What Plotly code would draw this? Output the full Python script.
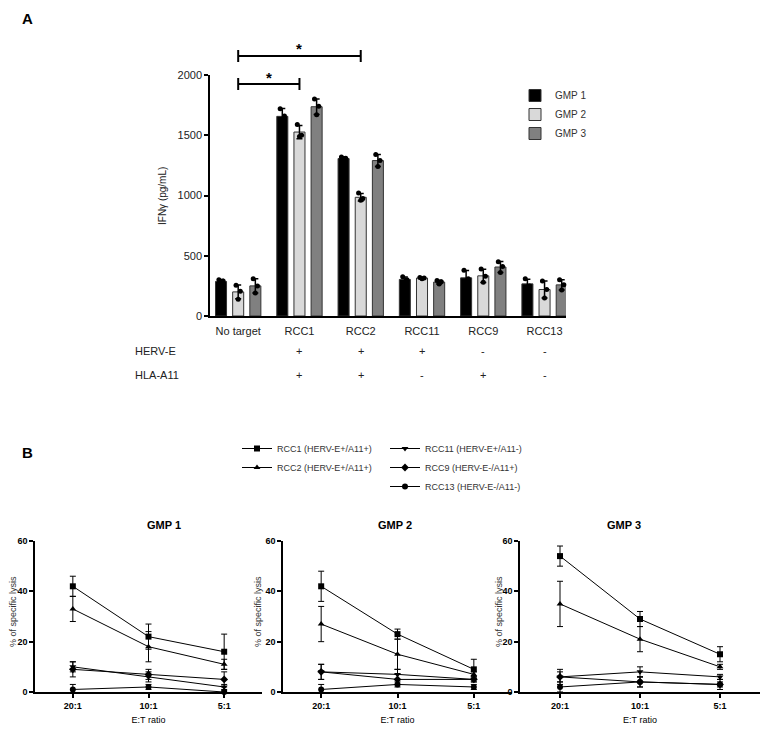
import plotly.graph_objects as go
import numpy as np

W, H = 772, 739
OFF = 8  # page body margin in the viewer
FONT = "Liberation Sans, Arial, sans-serif"


def fx(p):
    return (p - OFF) / W


def fy(p):
    return 1 - (p - OFF) / H


# ---------------- Panel A data ----------------
categories = ["No target", "RCC1", "RCC2", "RCC11", "RCC9", "RCC13"]
gmp_names = ["GMP 1", "GMP 2", "GMP 3"]
herv_e = ["", "+", "+", "+", "-", "-"]
hla_a11 = ["", "+", "+", "-", "+", "-"]

ifng_gmp1 = [[300, 290, 270], [1720, 1660, 1590], [1320, 1310, 1290],
             [325, 300, 285], [380, 310, 260], [310, 250, 240]]
ifng_gmp2 = [[255, 205, 140], [1590, 1500, 1490], [1020, 975, 960],
             [320, 315, 310], [390, 330, 280], [290, 220, 150]]
ifng_gmp3 = [[310, 250, 190], [1800, 1740, 1670], [1340, 1290, 1240],
             [295, 285, 265], [450, 410, 360], [300, 260, 215]]
bar_colors = ["#000000", "#d9d9d9", "#808080"]

# ---------------- Panel B data ----------------
ratios = ["20:1", "10:1", "5:1"]
targets = ["RCC1 (HERV-E+/A11+)", "RCC2 (HERV-E+/A11+)", "RCC11 (HERV-E+/A11-)",
           "RCC9 (HERV-E-/A11+)", "RCC13 (HERV-E-/A11-)"]
symbols = ["square", "triangle-up", "triangle-down", "diamond", "circle"]

lysis_gmp1 = [[42, 22, 16], [33, 18, 11], [10, 6, 2], [9, 7, 5], [1, 2, 0]]
sd_gmp1 = [[4, 5, 7], [5, 6, 2], [2, 2, 1], [3, 2, 3], [2, 1, 0.5]]
lysis_gmp2 = [[42, 23, 9], [27, 15, 7], [8, 7, 5], [8, 5, 5], [1, 3, 2]]
sd_gmp2 = [[6, 2, 4], [7, 6, 1], [3, 2, 1], [3, 2, 1], [2, 1, 1]]
lysis_gmp3 = [[54, 29, 15], [35, 21, 10], [6, 8, 6], [6, 4, 3], [2, 4, 3]]
sd_gmp3 = [[4, 3, 3], [9, 5, 1], [3, 2, 1], [2, 2, 1], [2, 2, 2]]

fig = go.Figure()

# ---------- Panel A bars ----------
offsets = [-0.28, 0.0, 0.28]
jitter = [-0.035, 0.035, 0.0]
idx = np.arange(len(categories))
for g, (name, data, col) in enumerate(zip(gmp_names, [ifng_gmp1, ifng_gmp2, ifng_gmp3], bar_colors)):
    arr = np.array(data, dtype=float)
    means = arr.mean(axis=1)
    sds = arr.std(axis=1, ddof=1)
    fig.add_trace(go.Bar(
        x=idx + offsets[g], y=means, width=0.18, name=name,
        marker=dict(color=col, line=dict(color="#333333", width=1)),
        error_y=dict(type="data", array=sds, color="black", thickness=1.5, width=3),
        xaxis="x", yaxis="y", legend="legend",
    ))
    for r in range(arr.shape[1]):
        fig.add_trace(go.Scatter(
            x=idx + offsets[g] + jitter[r], y=arr[:, r], mode="markers",
            marker=dict(color="black", size=5), showlegend=False,
            xaxis="x", yaxis="y", cliponaxis=False, hoverinfo="skip",
        ))

# ---------- Panel B lines ----------
lys_sets = [(lysis_gmp1, sd_gmp1), (lysis_gmp2, sd_gmp2), (lysis_gmp3, sd_gmp3)]
xi = np.arange(len(ratios))
for s, (vals, sds) in enumerate(lys_sets):
    ax = str(s + 2)
    for t, tname in enumerate(targets):
        fig.add_trace(go.Scatter(
            x=xi, y=vals[t], mode="lines+markers", name=tname,
            line=dict(color="black", width=1),
            marker=dict(symbol=symbols[t], color="black", size=6),
            error_y=dict(type="data", array=sds[t], color="black", thickness=1, width=3),
            xaxis="x" + ax, yaxis="y" + ax, cliponaxis=False,
            showlegend=(s == 0),
            legend="legend2" if t < 2 else "legend3",
        ))

# ---------- Layout ----------
axis_common = dict(showgrid=False, zeroline=False, showline=True, linecolor="black",
                   linewidth=1.5, ticks="outside", ticklen=4, tickwidth=1.5, tickcolor="black",
                   automargin=False)

layout = dict(
    width=W, height=H, plot_bgcolor="white", paper_bgcolor="white",
    margin=dict(l=0, r=0, t=0, b=0, autoexpand=False),
    font=dict(family=FONT, color="black"),
    showlegend=True,
    xaxis=dict(**{**axis_common, "ticks": ""},
               domain=[fx(210), fx(566)], range=[-0.46, 5.35],
               tickvals=list(idx), ticktext=categories, ticklabelstandoff=4,
               tickfont=dict(size=11, color="#222"), anchor="y"),
    yaxis=dict(**axis_common, domain=[fy(316), fy(75)], range=[0, 2000],
               tickvals=[0, 500, 1000, 1500, 2000],
               tickfont=dict(size=11, color="#222"), anchor="x"),
    legend=dict(x=fx(515), y=fy(81), xanchor="left", yanchor="top",
                font=dict(size=10, color="#333"), bgcolor="rgba(0,0,0,0)",
                tracegroupgap=0),
    legend2=dict(x=fx(237), y=fy(434), xanchor="left", yanchor="top",
                 font=dict(size=9, color="#333"), bgcolor="rgba(0,0,0,0)"),
    legend3=dict(x=fx(385), y=fy(434), xanchor="left", yanchor="top",
                 font=dict(size=9, color="#333"), bgcolor="rgba(0,0,0,0)"),
    barmode="overlay",
)

b_domains = [[fx(35), fx(262)], [fx(283), fx(512)], [fx(520), fx(760)]]
for s in range(3):
    ax = str(s + 2)
    layout["xaxis" + ax] = dict(**axis_common, domain=b_domains[s], range=[-0.5, 2.5],
                                tickvals=list(xi), ticktext=ratios,
                                tickfont=dict(size=9, family="Liberation Sans", weight="bold"),
                                anchor="y" + ax,
                                title=dict(text="E:T ratio", font=dict(size=9), standoff=7))
    layout["yaxis" + ax] = dict(**axis_common, domain=[fy(692), fy(541)], range=[0, 60],
                                tickvals=[0, 20, 40, 60],
                                tickfont=dict(size=9, family="Liberation Sans", weight="bold"),
                                anchor="x" + ax)

fig.update_layout(**layout)

# ---------- Annotations ----------
ann = []
ann.append(dict(text="<b>A</b>", x=fx(20), y=fy(8), xref="paper", yref="paper",
                showarrow=False, font=dict(size=15), xanchor="left", yanchor="top"))
ann.append(dict(text="<b>B</b>", x=fx(20), y=fy(452), xref="paper", yref="paper",
                showarrow=False, font=dict(size=15), xanchor="left", yanchor="middle"))
ann.append(dict(text="IFNγ (pg/mL)", x=fx(163), y=fy(196), xref="paper", yref="paper",
                showarrow=False, textangle=-90, font=dict(size=10, color="#222"),
                xanchor="center", yanchor="middle"))
ann.append(dict(text="HERV-E", x=fx(133), y=fy(351), xref="paper", yref="paper",
                showarrow=False, font=dict(size=11, color="#222"), xanchor="left", yanchor="middle"))
ann.append(dict(text="HLA-A11", x=fx(133), y=fy(375), xref="paper", yref="paper",
                showarrow=False, font=dict(size=11, color="#222"), xanchor="left", yanchor="middle"))
for i in range(len(categories)):
    for txt, py in [(herv_e[i], 351), (hla_a11[i], 375)]:
        if txt:
            ann.append(dict(text=txt, x=i, y=fy(py), xref="x", yref="paper",
                            showarrow=False, font=dict(size=11, color="#222"), yanchor="middle"))

# significance stars
ann.append(dict(text="<b>*</b>", x=0.5, y=fy(77), xref="x", yref="paper",
                showarrow=False, font=dict(size=15), yanchor="middle"))
ann.append(dict(text="<b>*</b>", x=1.0, y=fy(49), xref="x", yref="paper",
                showarrow=False, font=dict(size=15), yanchor="middle"))

# panel B titles and y-axis titles
title_centers = [145, 395, 643]
ytitle_x = [13, 258, 499]
for s, t in enumerate(gmp_names):
    ann.append(dict(text="<b>" + t + "</b>", x=fx(title_centers[s]), y=fy(525), xref="paper", yref="paper",
                    showarrow=False, font=dict(size=11), yanchor="middle"))
    ann.append(dict(text="% of specific lysis", x=fx(ytitle_x[s]), y=fy(612), xref="paper", yref="paper",
                    showarrow=False, textangle=-90, font=dict(size=9, color="#333"),
                    xanchor="center", yanchor="middle"))

fig.update_layout(annotations=ann)

# significance brackets
shapes = []
for (x0, x1, py) in [(0, 1, 84), (0, 2, 56)]:
    line = dict(color="black", width=2)
    shapes.append(dict(type="line", xref="x", yref="paper", x0=x0, x1=x1, y0=fy(py), y1=fy(py), line=line))
    for xx in (x0, x1):
        shapes.append(dict(type="line", xref="x", yref="paper", x0=xx, x1=xx,
                           y0=fy(py - 6), y1=fy(py + 6), line=line))
fig.update_layout(shapes=shapes)

fig.write_html("out.html")
